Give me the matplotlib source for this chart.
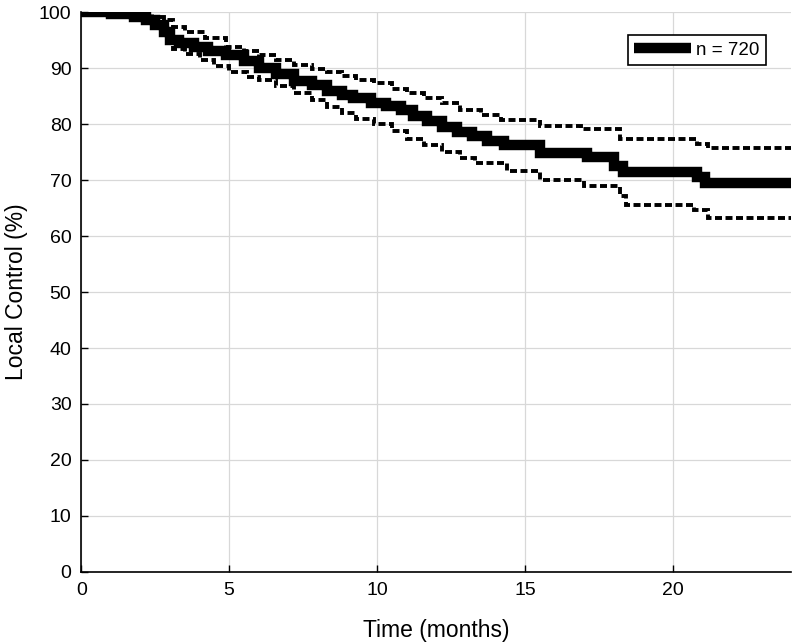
import numpy as np
import matplotlib.pyplot as plt

plt.rcParams['font.family'] = ['Liberation Sans', 'DejaVu Sans']

# --- Kaplan-Meier local control ---
t_km = [0, 1.0, 1.8, 2.2, 2.5, 2.8, 3.0, 3.3, 3.8, 4.3, 4.9, 5.5, 6.0, 6.6, 7.2,
        7.8, 8.3, 8.8, 9.2, 9.8, 10.3, 10.8, 11.2, 11.7, 12.2, 12.7, 13.2, 13.7,
        14.3, 15.5, 17.1, 18.0, 18.3, 20.8, 21.1, 24]
s_km = [100, 99.6, 99.2, 98.6, 97.8, 96.5, 95.0, 94.5, 93.8, 93.0, 92.3, 91.2,
        90.0, 89.0, 87.8, 87.0, 86.0, 85.2, 84.6, 83.8, 83.3, 82.5, 81.5, 80.5,
        79.5, 78.6, 77.8, 77.0, 76.2, 74.8, 74.2, 72.5, 71.5, 70.6, 69.4, 69.4]

# upper confidence bound
t_up = [0, 1.8, 2.4, 2.8, 3.1, 3.5, 4.2, 4.9, 5.5, 6.0, 6.6, 7.2, 7.8, 8.3, 8.8,
        9.3, 9.9, 10.5, 11.0, 11.6, 12.2, 12.8, 13.5, 14.2, 15.5, 16.9, 18.2,
        20.8, 21.2, 24]
s_up = [100, 99.8, 99.2, 98.6, 97.3, 96.4, 95.4, 93.8, 93.0, 92.3, 91.5, 90.5,
        89.9, 89.3, 88.6, 87.9, 87.3, 86.3, 85.5, 84.6, 83.7, 82.6, 81.6, 80.7,
        79.7, 79.1, 77.3, 76.5, 75.8, 75.8]

# lower confidence bound
t_lo = [0, 1.5, 2.2, 2.6, 2.9, 3.1, 3.5, 4.0, 4.5, 5.0, 5.6, 6.0, 6.6, 7.2, 7.8,
        8.3, 8.8, 9.3, 9.9, 10.5, 11.0, 11.6, 12.2, 12.8, 13.3, 14.4, 15.5, 17.0,
        18.2, 18.4, 20.7, 21.2, 24]
s_lo = [100, 99.3, 98.5, 97.2, 95.8, 93.5, 92.6, 91.4, 90.4, 89.3, 88.5, 87.9,
        86.8, 85.5, 84.3, 83.0, 82.0, 81.0, 80.1, 78.7, 77.4, 76.2, 75.1, 74.0,
        73.0, 71.6, 70.0, 68.9, 67.2, 65.6, 64.6, 63.2, 63.2]

x_ticks = [0, 5, 10, 15, 20]
y_ticks = np.arange(0, 101, 10)

fig = plt.figure(figsize=(7.96, 6.44), dpi=100)
ax = fig.add_axes([0.102, 0.112, 0.892, 0.869])

dash = (0, (1.8, 0.9))
ax.step(t_up, s_up, where='post', color='black', lw=2.8, ls=dash,
        dash_joinstyle='miter')
ax.step(t_lo, s_lo, where='post', color='black', lw=2.8, ls=dash,
        dash_joinstyle='miter')
ax.step(t_km, s_km, where='post', color='black', lw=7.5, label='n = 720',
        solid_capstyle='butt', solid_joinstyle='miter')

ax.set_xlim(0, 24)
ax.set_ylim(0, 100)
ax.set_xticks(x_ticks)
ax.set_yticks(y_ticks)
ax.grid(True, color='#d8d8d8', lw=0.9)
ax.set_axisbelow(True)
ax.tick_params(direction='in', length=5, width=1, labelsize=14, pad=7)
ax.spines['top'].set_visible(False)
ax.spines['right'].set_visible(False)
ax.spines['left'].set_linewidth(1.2)
ax.spines['bottom'].set_linewidth(1.2)

ax.set_xlabel('Time (months)', fontsize=16.5, labelpad=15)
ax.set_ylabel('Local Control (%)', fontsize=16.5, labelpad=8)

leg = ax.legend(loc='upper right', bbox_to_anchor=(0.978, 0.976), fontsize=13.5,
                fancybox=False, framealpha=1, edgecolor='black',
                handlelength=3.0, handletextpad=0.3, borderpad=0.35)
leg.get_frame().set_linewidth(1.2)

fig.savefig('out.png', dpi=100)
